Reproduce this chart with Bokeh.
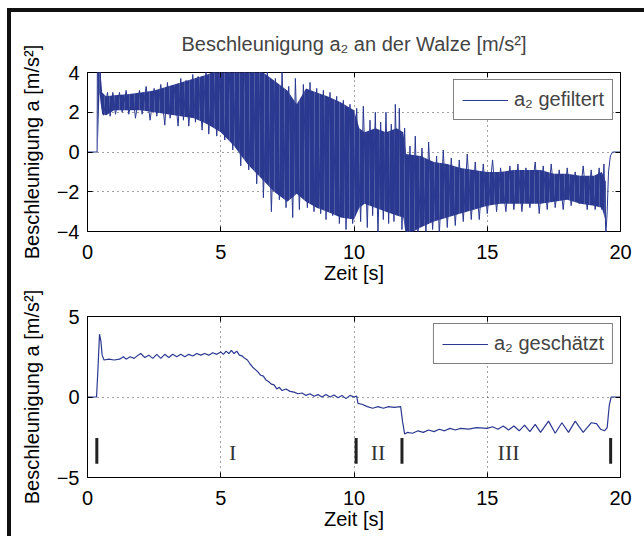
from bokeh.plotting import figure
from bokeh.models import LinearAxis, Legend, LegendItem, FixedTicker, Range1d
from bokeh.layouts import column
from bokeh.embed import file_html
from bokeh.resources import INLINE
from bokeh.core.properties import value

# ---------------- data ----------------
# top: filtered acceleration -> dense band (envelope) + visible spike peaks
env_t = [0.38, 0.45, 0.55, 0.7, 1.0, 1.5, 2.0, 2.5, 3.0, 3.5, 4.0, 4.5, 5.0, 5.5, 6.0,
         6.5, 7.0, 7.5, 7.85, 8.2, 8.6, 9.0, 9.5, 10.0, 10.2, 10.4, 10.8, 11.2, 11.6,
         11.85, 11.95, 12.5, 13.0, 13.5, 14.0, 14.5, 15.0, 15.5, 16.0, 16.5, 17.0, 17.5,
         18.0, 18.5, 19.0, 19.3, 19.45]
env_hi = [4.5, 4.5, 3.0, 2.8, 2.85, 2.9, 3.0, 3.1, 3.3, 3.5, 3.7, 3.9, 4.2, 4.5, 4.5,
          4.1, 3.6, 3.1, 2.4, 3.2, 3.0, 2.8, 2.5, 2.1, 1.2, 1.0, 1.2, 1.0, 1.2,
          1.0, -0.1, -0.2, -0.5, -0.6, -0.8, -0.9, -1.0, -1.0, -0.9, -0.9, -0.9, -1.1,
          -1.1, -1.2, -1.2, -1.0, -1.5]
env_lo = [0.0, 3.0, 1.9, 1.85, 2.1, 2.1, 2.1, 2.0, 1.9, 1.8, 1.7, 1.4, 1.0, 0.3, -0.6,
          -1.3, -2.0, -2.5, -2.1, -2.5, -2.8, -3.0, -3.3, -3.4, -2.8, -2.6, -2.8, -3.0, -3.2,
          -3.3, -4.2, -3.8, -3.5, -3.3, -3.1, -2.9, -2.7, -2.6, -2.6, -2.6, -2.6, -2.5,
          -2.4, -2.6, -2.7, -2.8, -3.5]

sig_t = [0.0, 0.36, 0.37, 0.47, 0.52, 0.6, 0.75, 0.85, 0.95, 1.05, 1.2, 1.3, 1.45, 1.55,
         1.7, 1.8, 1.95, 2.05, 2.2, 2.35, 2.5, 2.6, 2.75, 2.9, 3.0, 3.1, 3.25, 3.4, 3.5,
         3.6, 3.7, 3.8, 3.95, 4.05, 4.15, 4.3, 4.45, 4.55, 4.7, 4.85, 5.0, 5.15, 5.3, 5.45,
         5.6, 5.75, 5.9, 6.05, 6.2, 6.35, 6.5, 6.6, 6.75, 6.9, 7.05, 7.2, 7.3, 7.45, 7.55,
         7.7, 7.8, 7.95, 8.1, 8.25, 8.35, 8.5, 8.6, 8.75, 8.85, 8.95, 9.1, 9.2, 9.35, 9.45,
         9.6, 9.7, 9.85, 9.95, 10.1, 10.25, 10.35, 10.5, 10.6, 10.7, 10.8, 10.9, 11.0, 11.1,
         11.2, 11.3, 11.4, 11.5, 11.55, 11.65, 11.7, 11.8, 11.9, 12.0, 12.1, 12.2, 12.3,
         12.4, 12.55, 12.7, 12.8, 12.95, 13.1, 13.2, 13.35, 13.5, 13.65, 13.8, 13.95, 14.1,
         14.25, 14.4, 14.55, 14.7, 14.85, 15.0, 15.2, 15.35, 15.5, 15.7, 15.85, 16.0, 16.15,
         16.3, 16.45, 16.6, 16.8, 16.95, 17.1, 17.25, 17.4, 17.55, 17.7, 17.85, 18.0, 18.15,
         18.3, 18.45, 18.6, 18.75, 18.9, 19.05, 19.2, 19.3, 19.38, 19.45, 19.5, 19.55,
         19.62, 19.7, 20.0]
sig_a = [0.0, 0.0, 4.5, 4.5, 2.4, 1.85, 3.0, 1.8, 3.0, 1.9, 3.0, 2.0, 3.1, 1.9,
         2.9, 1.7, 3.1, 1.9, 3.3, 1.6, 3.2, 1.8, 3.4, 1.35, 3.5, 1.7, 3.3, 1.3, 3.7,
         1.6, 3.6, 1.3, 3.9, 1.5, 3.8, 1.1, 4.2, 0.9, 4.3, 0.8, 4.5, 0.6, 4.5, 0.1,
         4.5, -0.7, 4.5, -0.9, 4.3, -1.6, 4.2, -2.3, 4.1, -3.0, 3.7, -2.4, 4.2, -2.8, 3.3,
         -3.3, 3.7, -2.9, 3.4, -2.8, 3.5, -3.0, 3.2, -3.1, 3.1, -3.4, 3.0, -3.2, 2.8, -3.6,
         2.6, -3.9, 2.4, -3.6, 2.2, -3.5, 2.3, -3.8, 1.6, -3.2, 2.0, -4.2, 1.5, -3.4,
         2.0, -3.6, 1.4, -3.5, 2.4, -3.0, 2.2, -3.9, 1.2, -4.2, 0.3, -4.0, 0.8,
         -4.2, 0.2, -4.1, 0.5, -3.9, -0.2, -4.2, 0.1, -3.8, -0.3, -3.7, -0.4, -3.5,
         -0.1, -3.4, -0.5, -3.4, -0.6, -3.1, -0.4, -3.0, -0.8, -3.0, -0.7, -2.9, -0.6,
         -3.0, -0.8, -2.8, -0.5, -3.1, -0.7, -2.9, -0.6, -2.8, -0.9, -2.9, -0.8, -2.7,
         -1.0, -2.6, -0.7, -2.9, -0.9, -2.9, -0.8, -2.9, -0.6, -4.2, -3.0, -1.0,
         -0.2, 0.0, 0.0]

# bottom: estimated acceleration
est_t = [0.0, 0.34, 0.40, 0.45, 0.50, 0.55, 0.62, 0.8, 1.0, 1.2, 1.35, 1.45, 1.6, 1.75,
         1.9, 2.0, 2.15, 2.3, 2.45, 2.6, 2.75, 2.9, 3.05, 3.2, 3.35, 3.5, 3.65, 3.8, 3.95,
         4.1, 4.25, 4.4, 4.55, 4.7, 4.85, 5.0, 5.1, 5.2, 5.3, 5.4, 5.5, 5.6, 5.7, 5.8,
         5.9, 6.0, 6.1, 6.2, 6.3, 6.4, 6.5, 6.6, 6.7, 6.8, 6.9, 7.0, 7.1, 7.2, 7.3, 7.45,
         7.6, 7.75, 7.9, 8.05, 8.2, 8.35, 8.5, 8.65, 8.8, 8.95, 9.1, 9.25, 9.4, 9.55, 9.7,
         9.85, 10.0, 10.1, 10.15, 10.3, 10.5, 10.7, 10.9, 11.1, 11.3, 11.5, 11.75, 11.82,
         11.9, 12.0, 12.2, 12.4, 12.6, 12.8, 13.0, 13.2, 13.4, 13.6, 13.8, 14.0, 14.3,
         14.6, 15.0, 15.2, 15.4, 15.6, 15.8, 16.0, 16.2, 16.4, 16.6, 16.8, 17.0, 17.3,
         17.55, 17.8, 18.05, 18.3, 18.6, 18.9, 19.1, 19.25, 19.4, 19.5, 19.58, 19.65, 20.0]
est_a = [0.0, 0.0, 2.0, 3.9, 3.5, 2.6, 2.3, 2.35, 2.3, 2.35, 2.5, 2.35, 2.5, 2.4,
         2.6, 2.7, 2.45, 2.6, 2.4, 2.65, 2.4, 2.65, 2.45, 2.65, 2.5, 2.65, 2.5, 2.65, 2.55,
         2.7, 2.6, 2.7, 2.6, 2.75, 2.65, 2.8, 2.65, 2.85, 2.7, 2.9, 2.7, 2.85, 2.6, 2.55,
         2.4, 2.3, 2.05, 1.85, 1.7, 1.55, 1.35, 1.3, 1.05, 0.95, 0.8, 0.75, 0.5, 0.6, 0.4, 0.5,
         0.35, 0.3, 0.2, 0.25, 0.1, 0.2, 0.05, 0.15, 0.0, 0.15, 0.0, 0.12, -0.05, 0.1, -0.1,
         0.1, 0.0, 0.05, -0.4, -0.45, -0.6, -0.7, -0.6, -0.7, -0.6, -0.65, -0.6, -1.5,
         -2.3, -2.2, -2.25, -2.1, -2.2, -2.05, -2.15, -2.0, -2.1, -1.95, -2.05, -1.95, -2.0,
         -1.9, -1.95, -1.85, -2.0, -1.8, -2.05, -1.8, -2.1, -1.75, -2.15, -1.7, -2.2, -1.5,
         -2.25, -1.6, -2.2, -1.5, -2.2, -1.6, -1.65, -2.0, -2.1, -1.9, -0.5, 0.0, 0.0]

phase_t = [0.35, 10.08, 11.8, 19.63]
phase_top = [-2.55, -2.55, -2.55, -2.55]
phase_bottom = [-4.15, -4.15, -4.15, -4.15]
phase_labels = ["I", "II", "III"]
phase_label_t = [5.45, 10.9, 15.8]
phase_label_y = [-3.45, -3.45, -3.45]

x_ticks = [0, 5, 10, 15, 20]
y_ticks_top = [-4, -2, 0, 2, 4]
y_ticks_bottom = [-5, 0, 5]

title_text = "Beschleunigung a\u2082 an der Walze [m/s\u00b2]"
y_label = "Beschleunigung a [m/s\u00b2]"
x_label = "Zeit [s]"
legend_top = "a\u2082 gefiltert"
legend_bottom = "a\u2082 gesch\u00e4tzt"

# ---------------- styling ----------------
FONT = "Liberation Sans"
FS = "20px"
BLUE = "#2b3990"
W = 633


def make_fig(height, top, bottom, yticks, yr, title=None):
    p = figure(width=W, height=height, output_backend="svg", toolbar_location=None,
               x_range=Range1d(0, 20), y_range=Range1d(*yr), title=title,
               min_border_left=76, min_border_right=24, min_border_top=top,
               min_border_bottom=bottom)
    p.outline_line_color = "black"
    p.outline_line_width = 1
    p.background_fill_color = "white"
    p.border_fill_color = "white"
    for ax in (p.xaxis[0], p.yaxis[0]):
        ax.major_tick_in = 5
        ax.major_tick_out = 0
        ax.minor_tick_line_color = None
        ax.axis_line_color = None
        ax.major_label_text_font = FONT
        ax.major_label_text_font_size = FS
        ax.major_label_text_color = "black"
        ax.axis_label_text_font = FONT
        ax.axis_label_text_font_size = FS
        ax.axis_label_text_font_style = "normal"
        ax.axis_label_text_color = "black"
    p.xaxis.ticker = FixedTicker(ticks=x_ticks)
    p.yaxis.ticker = FixedTicker(ticks=yticks)
    p.xaxis.axis_label = x_label
    p.yaxis.axis_label = y_label
    p.xaxis.major_label_standoff = 13
    p.yaxis.major_label_standoff = 8
    p.xaxis.axis_label_standoff = 0
    p.yaxis.axis_label_standoff = 11
    # mirrored ticks (MATLAB box)
    for loc, tk in (("right", yticks), ("above", x_ticks)):
        ax = LinearAxis(ticker=FixedTicker(ticks=tk))
        ax.major_tick_in = 5
        ax.major_tick_out = 0
        ax.minor_tick_line_color = None
        ax.axis_line_color = None
        ax.major_label_text_font_size = "0px"
        ax.major_label_standoff = 0
        p.add_layout(ax, loc)
    p.xgrid.ticker = FixedTicker(ticks=x_ticks)
    p.ygrid.ticker = FixedTicker(ticks=yticks)
    for g in (p.xgrid[0], p.ygrid[0]):
        g.grid_line_color = "#444444"
        g.grid_line_dash = "1 4"
        g.grid_line_width = 1
    return p


def add_legend(p, label, renderer):
    leg = Legend(items=[LegendItem(label=label, renderers=[renderer])], location="top_right")
    leg.margin = 7
    leg.padding = 8
    leg.glyph_width = 46
    leg.glyph_height = 22
    leg.label_height = 22
    leg.label_standoff = 6
    leg.label_text_font = FONT
    leg.label_text_font_size = FS
    leg.border_line_color = "black"
    leg.border_line_width = 1.5
    leg.background_fill_alpha = 1
    p.add_layout(leg)


# ---------------- top figure ----------------
p1 = make_fig(274, 59, 54, y_ticks_top, (-4, 4), title=title_text)
p1.title.align = "center"
p1.title.text_font = FONT
p1.title.text_font_size = FS
p1.title.text_font_style = "normal"
p1.title.standoff = 36
p1.varea(x=env_t, y1=env_lo, y2=env_hi, fill_color=BLUE,
         hatch_pattern="vertical_line", hatch_color="white", hatch_alpha=0.18,
         hatch_scale=5, hatch_weight=1)
r1 = p1.line(sig_t, sig_a, color=BLUE, line_width=1)
add_legend(p1, legend_top, r1)

# ---------------- bottom figure ----------------
p2 = make_fig(250, 30, 59, y_ticks_bottom, (-5, 5))
r2 = p2.line(est_t, est_a, color=BLUE, line_width=1.2)
p2.segment(x0=phase_t, y0=phase_top, x1=phase_t, y1=phase_bottom, color="#222222",
           line_width=3)
p2.text(x=phase_label_t, y=phase_label_y, text=phase_labels,
        text_font=value("Liberation Serif"), text_font_size="22px", text_align="center",
        text_baseline="middle", text_color="#333333")
add_legend(p2, legend_bottom, r2)

layout = column(p1, p2, spacing=0,
                styles={"border-left": "4px solid #111111", "border-top": "4px solid #111111",
                        "margin-left": "7px", "margin-top": "8px"})

open("out.html", "w").write(file_html(layout, INLINE))
